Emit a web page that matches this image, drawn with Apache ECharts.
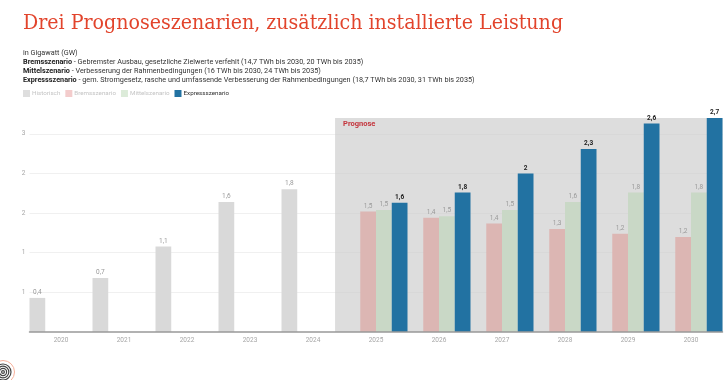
<!DOCTYPE html>
<html>
<head>
<meta charset="utf-8">
<style>html,body{margin:0;padding:0;background:#fff}#chart{width:728px;height:380px}</style>
<script src="https://cdn.jsdelivr.net/npm/echarts@6/dist/echarts.min.js"></script>
</head>
<body>
<div id="chart"></div>
<script>
var years = ['2020','2021','2022','2023','2024','2025','2026','2027','2028','2029','2030'];
var historisch = [0.43,0.68,1.08,1.64,1.8,null,null,null,null,null,null];
var brems = [null,null,null,null,null,1.52,1.44,1.37,1.30,1.24,1.20];
var mittel = [null,null,null,null,null,1.54,1.46,1.54,1.64,1.76,1.76];
var express = [null,null,null,null,null,1.63,1.76,2.0,2.31,2.63,2.70];
var fontName = 'Roboto';

function fmtValue(p) {
    return String(Number(p.value.toFixed(1))).replace('.', ',');
}

function barSeries(name, data, color, labelColor, bold) {
    return {
        name: name,
        type: 'bar',
        data: data,
        barGap: 0,
        barCategoryGap: 0,
        z: 3,
        itemStyle: { color: color },
        label: {
            show: true,
            position: 'top',
            distance: 2,
            formatter: fmtValue,
            fontFamily: fontName,
            fontSize: 6.5,
            color: labelColor,
            fontWeight: bold ? 'bold' : 'normal'
        }
    };
}

var series = [
    barSeries('Historisch', historisch, '#d9d9d9', '#999999', false),
    barSeries('Bremsszenario', brems, '#dcb6b3', '#999999', false),
    barSeries('Mittelszenario', mittel, '#c9d8c6', '#999999', false),
    barSeries('Expressszenario', express, '#2272a2', '#222222', true),
    {
        // grey forecast band, on a hidden axis counted in category widths
        type: 'scatter',
        xAxisIndex: 1,
        data: [],
        silent: true,
        markArea: {
            silent: true,
            itemStyle: { color: 'rgba(205,205,205,0.68)' },
            label: {
                show: true,
                position: [8, 2],
                formatter: 'Prognose',
                fontFamily: fontName,
                fontSize: 7.5,
                fontWeight: 'bold',
                color: '#c4343c'
            },
            data: [[{ xAxis: 4.85, yAxis: 0 }, { xAxis: 11, yAxis: 2.7 }]]
        },
        z: 1
    }
];

var option = {
    animation: false,
    title: [
        {
            text: 'Drei Prognoseszenarien, zusätzlich installierte Leistung',
            left: 23,
            top: 13,
            padding: 0,
            textStyle: { fontFamily: 'DejaVu Serif Condensed', fontSize: 21.15, fontWeight: 'normal', color: '#e2442c' }
        },
        {
            text: 'in Gigawatt (GW)\n'
                + '{b|Bremsszenario} - Gebremster Ausbau, gesetzliche Zielwerte verfehlt (14,7 TWh bis 2030, 20 TWh bis 2035)\n'
                + '{b|Mittelszenario} - Verbesserung der Rahmenbedingungen (16 TWh bis 2030, 24 TWh bis 2035)\n'
                + '{b|Expressszenario} - gem. Stromgesetz, rasche und umfassende Verbesserung der Rahmenbedingungen (18,7 TWh bis 2030, 31 TWh bis 2035)',
            left: 23,
            top: 49,
            padding: 0,
            textStyle: {
                fontFamily: fontName,
                fontSize: 7.25,
                fontWeight: 'normal',
                color: '#333333',
                lineHeight: 9,
                rich: { b: { fontFamily: fontName, fontSize: 7.25, fontWeight: 'bold', color: '#222222', lineHeight: 9 } }
            }
        }
    ],
    legend: {
        left: 23,
        top: 90,
        padding: 0,
        itemWidth: 7,
        itemHeight: 7,
        itemGap: 5,
        selectedMode: false,
        textStyle: { fontFamily: fontName, fontSize: 6.25, padding: [0, 0, 0, -3] },
        data: [
            { name: 'Historisch', icon: 'rect', itemStyle: { color: '#dedede' }, textStyle: { color: '#c4c4c4' } },
            { name: 'Bremsszenario', icon: 'rect', itemStyle: { color: '#f3cccc' }, textStyle: { color: '#c4c4c4' } },
            { name: 'Mittelszenario', icon: 'rect', itemStyle: { color: '#dcebd9' }, textStyle: { color: '#c4c4c4' } },
            { name: 'Expressszenario', icon: 'rect', itemStyle: { color: '#2272a2' }, textStyle: { color: '#333333' } }
        ]
    },
    grid: { left: 29.5, right: 5.5, top: 118, bottom: 48 },
    xAxis: [
        {
            type: 'category',
            data: years,
            axisTick: { show: false },
            axisLine: { lineStyle: { color: '#999999', width: 1.5 } },
            axisLabel: { fontFamily: fontName, fontSize: 6.5, color: '#a6a6a6', margin: 5 },
            z: 5
        },
        { type: 'value', min: 0, max: 11, show: false }
    ],
    yAxis: {
        type: 'value',
        min: 0,
        max: 2.7,
        interval: 0.5,
        axisLine: { show: false },
        axisTick: { show: false },
        splitLine: { show: true, showMinLine: false, showMaxLine: false, lineStyle: { color: '#f0f0f0', width: 1 } },
        axisLabel: {
            showMinLabel: false,
            showMaxLabel: false,
            fontFamily: fontName,
            fontSize: 6.5,
            color: '#a6a6a6',
            margin: 4,
            formatter: function (v) { return String(Math.round(v)); }
        }
    },
    series: series,
    graphic: [
        { type: 'circle', shape: { cx: 3, cy: 372, r: 11.5 }, style: { fill: 'none', stroke: '#f7b09a', lineWidth: 1 } },
        { type: 'circle', shape: { cx: 3, cy: 372, r: 8 }, style: { fill: 'none', stroke: '#444444', lineWidth: 1.2 } },
        { type: 'circle', shape: { cx: 3, cy: 372, r: 5.8 }, style: { fill: 'none', stroke: '#444444', lineWidth: 1.2 } },
        { type: 'circle', shape: { cx: 3, cy: 372, r: 3.6 }, style: { fill: 'none', stroke: '#444444', lineWidth: 1.2 } },
        { type: 'circle', shape: { cx: 3, cy: 372, r: 1.4 }, style: { fill: 'none', stroke: '#444444', lineWidth: 1.2 } }
    ]
};

var myChart = echarts.init(document.getElementById('chart'));
myChart.setOption(option);
</script>
</body>
</html>
